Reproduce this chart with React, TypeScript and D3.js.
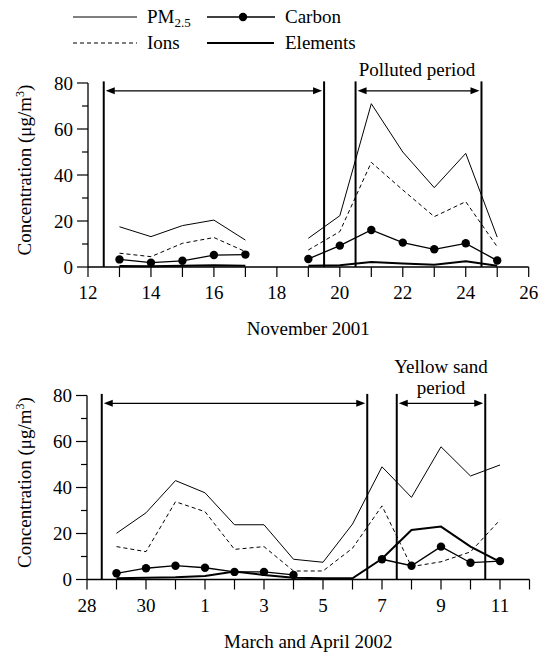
import React from 'react';
import * as d3 from 'd3';

// November 2001 (days 13..25, no sample on the 18th)
const novDays = [13, 14, 15, 16, 17, 18, 19, 20, 21, 22, 23, 24, 25];
const novPM25 = [17.5, 13.2, 18, 20.4, 11.7, null, 12.5, 22.3, 71, 50, 34.5, 49.4, 13];
const novIons = [6, 4.5, 10.3, 12.8, 6.7, null, 7.4, 15.4, 45.5, 33.5, 21.9, 28.4, 8.8];
const novCarbon = [3.3, 1.9, 2.7, 5.2, 5.4, null, 3.5, 9.3, 16.1, 10.6, 7.7, 10.3, 2.8];
const novElements = [0.4, 0.3, 0.5, 0.8, 0.5, null, 0.5, 0.8, 2.2, 1.5, 1, 2.5, 0.5];
const novTicks = [12, 13, 14, 15, 16, 17, 18, 19, 20, 21, 22, 23, 24, 25, 26];
const novTickLabels = ['12', '', '14', '', '16', '', '18', '', '20', '', '22', '', '24', '', '26'];
const novPeriodLines = [12.5, 19.5, 20.5, 24.5];
const novArrows = [[12.5, 19.5], [20.5, 24.5]];

// March 28 = 0 ... April 12 = 15
const sprDays = [1, 2, 3, 4, 5, 6, 7, 8, 9, 10, 11, 12, 13, 14];
const sprPM25 = [20.1, 29, 43, 37.7, 23.8, 23.8, 8.8, 7.5, 24.1, 49, 35.7, 57.7, 45, 49.8];
const sprIons = [14.3, 12.1, 33.8, 29.5, 13.1, 14.3, 3.7, 3.7, 13.6, 32, 5.6, 7.7, 12, 25.9];
const sprCarbon = [2.7, 4.9, 6, 5.1, 3.3, 3.3, 2, null, null, 8.8, 6, 14.3, 7.3, 8];
const sprElements = [0.5, 0.8, 1, 1.5, 3.5, 2, 0.8, 0.5, 0.5, 9, 21.5, 23, 14.3, 7.7];
const sprTicks = [0, 1, 2, 3, 4, 5, 6, 7, 8, 9, 10, 11, 12, 13, 14, 15];
const sprTickLabels = ['28', '', '30', '', '1', '', '3', '', '5', '', '7', '', '9', '', '11', ''];
const sprPeriodLines = [0.5, 9.5, 10.5, 13.5];
const sprArrows = [[0.5, 9.5], [10.5, 13.5]];

const yTicks = [0, 10, 20, 30, 40, 50, 60, 70, 80];

const FONT = "'Liberation Serif', 'Times New Roman', 'DejaVu Serif', serif";

type Val = number | null;

interface PanelProps {
  days: number[];
  pm25: Val[];
  ions: Val[];
  carbon: Val[];
  elements: Val[];
  ticks: number[];
  tickLabels: string[];
  periodLines: number[];
  arrows: number[][];
  xDomain: [number, number];
  xRange: [number, number];
  y0: number;
  title: string;
  note: string[];
  noteX: number;
  noteBaseline: number;
}

function Panel(p: PanelProps) {
  const x = d3.scaleLinear().domain(p.xDomain).range(p.xRange);
  const y = d3.scaleLinear().domain([0, 80]).range([p.y0, p.y0 - 184]);

  const mk = (vals: Val[]) =>
    d3.line<Val>()
      .defined(d => d !== null)
      .x((_, i) => x(p.days[i]))
      .y(d => y(d as number))(vals) || '';

  const arrowY = y(76.6);
  const lineTop = y(80.7);
  const [xl, xr] = p.xRange;

  return (
    <g>
      {/* period boundaries */}
      {p.periodLines.map((d, i) => (
        <line key={'pl' + i} x1={x(d)} x2={x(d)} y1={p.y0} y2={lineTop} stroke="#000" strokeWidth={2} />
      ))}
      {p.arrows.map((a, i) => {
        const x1 = x(a[0]) + 2;
        const x2 = x(a[1]) - 2;
        return (
          <g key={'ar' + i}>
            <line x1={x1 + 6} x2={x2 - 6} y1={arrowY} y2={arrowY} stroke="#000" strokeWidth={1.3} />
            <path d={`M${x1},${arrowY} L${x1 + 9},${arrowY - 3.5} L${x1 + 9},${arrowY + 3.5} Z`} fill="#000" />
            <path d={`M${x2},${arrowY} L${x2 - 9},${arrowY - 3.5} L${x2 - 9},${arrowY + 3.5} Z`} fill="#000" />
          </g>
        );
      })}

      {/* series */}
      <path d={mk(p.elements)} fill="none" stroke="#000" strokeWidth={2} />
      <path d={mk(p.pm25)} fill="none" stroke="#000" strokeWidth={1} />
      <path d={mk(p.ions)} fill="none" stroke="#000" strokeWidth={1} strokeDasharray="4,3" />
      <path d={mk(p.carbon)} fill="none" stroke="#000" strokeWidth={1.3} />
      {p.carbon.map((d, i) =>
        d === null ? null : <circle key={'c' + i} cx={x(p.days[i])} cy={y(d)} r={4.2} fill="#000" />
      )}

      {/* axes */}
      <line x1={xl} x2={xr} y1={p.y0} y2={p.y0} stroke="#000" strokeWidth={1.3} />
      <line x1={xl} x2={xl} y1={p.y0} y2={y(80)} stroke="#000" strokeWidth={1.3} />
      {p.ticks.map((t, i) => (
        <g key={'xt' + i}>
          <line x1={x(t)} x2={x(t)} y1={p.y0} y2={p.y0 + 10} stroke="#000" strokeWidth={1.2} />
          <text x={x(t)} y={p.y0 + 32} textAnchor="middle">{p.tickLabels[i]}</text>
        </g>
      ))}
      {yTicks.map(t => (
        <g key={'yt' + t}>
          <line x1={xl - (t % 20 === 0 ? 11 : 6)} x2={xl} y1={y(t)} y2={y(t)} stroke="#000" strokeWidth={1.2} />
          {t % 20 === 0 && (
            <text x={xl - 15} y={y(t) + 6.5} textAnchor="end">{t}</text>
          )}
        </g>
      ))}
      <text transform={`translate(31,${p.y0 - 97}) rotate(-90)`} textAnchor="middle">
        Concentration (μg/m<tspan style={{ fontSize: 12 }} dy={-7}>3</tspan><tspan dy={7}>)</tspan>
      </text>
      <text x={(xl + xr) / 2} y={p.y0 + 68} textAnchor="middle">{p.title}</text>
      {p.note.map((s, i) => (
        <text key={'n' + i} x={p.noteX} y={p.noteBaseline - (p.note.length - 1 - i) * 21} textAnchor="middle">{s}</text>
      ))}
    </g>
  );
}

function Legend() {
  return (
    <g>
      <line x1={73} x2={137} y1={17} y2={17} stroke="#000" strokeWidth={1} />
      <text x={147} y={23}>PM<tspan style={{ fontSize: 13 }} dy={4}>2.5</tspan></text>
      <line x1={207} x2={275} y1={17} y2={17} stroke="#000" strokeWidth={1.3} />
      <circle cx={243} cy={17} r={4.2} fill="#000" />
      <text x={285} y={23}>Carbon</text>
      <line x1={73} x2={137} y1={43} y2={43} stroke="#000" strokeWidth={1} strokeDasharray="4,3" />
      <text x={147} y={49}>Ions</text>
      <line x1={207} x2={274} y1={43} y2={43} stroke="#000" strokeWidth={2} />
      <text x={285} y={49}>Elements</text>
    </g>
  );
}

export default function App() {
  return (
    <svg
      width={546}
      height={658}
      style={{ position: 'absolute', left: 0, top: 0, background: '#fff', fontFamily: FONT, fontSize: 19 }}
    >
      <Legend />
      <Panel
        days={novDays} pm25={novPM25} ions={novIons} carbon={novCarbon} elements={novElements}
        ticks={novTicks} tickLabels={novTickLabels} periodLines={novPeriodLines} arrows={novArrows}
        xDomain={[12, 26]} xRange={[88, 528.7]} y0={267}
        title="November 2001" note={['Polluted period']} noteX={417} noteBaseline={76}
      />
      <Panel
        days={sprDays} pm25={sprPM25} ions={sprIons} carbon={sprCarbon} elements={sprElements}
        ticks={sprTicks} tickLabels={sprTickLabels} periodLines={sprPeriodLines} arrows={sprArrows}
        xDomain={[0, 15]} xRange={[87, 529.5]} y0={579.5}
        title="March and April 2002" note={['Yellow sand', 'period']} noteX={441} noteBaseline={394}
      />
    </svg>
  );
}
